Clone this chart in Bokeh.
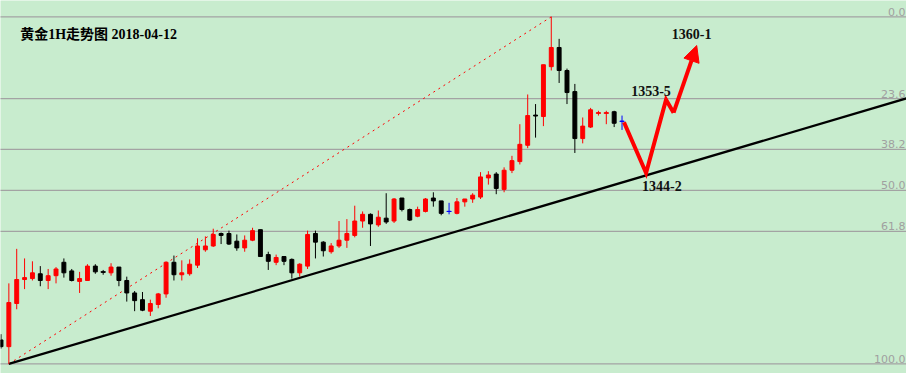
from bokeh.plotting import figure
from bokeh.models import Range1d, Arrow, NormalHead, ColumnDataSource
from bokeh.core.properties import value
from bokeh.embed import file_html
from bokeh.resources import INLINE

# ---- data (gold 1H candles) ----
opens = [1328.0, 1327.3, 1331.8, 1334.3, 1334.4, 1334.9, 1334.2, 1334.7, 1336.1, 1335.2,
         1334.1, 1334.2, 1335.7, 1335.1, 1335.0, 1335.6, 1334.2, 1332.9, 1332.2, 1331.0,
         1331.7, 1332.8, 1336.1, 1334.8, 1334.9, 1335.8, 1337.4, 1337.8, 1339.1, 1339.1,
         1338.3, 1337.6, 1338.4, 1339.5, 1336.9, 1336.1, 1336.7, 1336.4, 1335.0, 1335.7,
         1339.1, 1338.2, 1337.2, 1337.8, 1338.4, 1338.9, 1340.4, 1341.1, 1340.0, 1340.7,
         1340.4, 1342.8, 1341.6, 1340.9, 1341.4, 1342.8, 1342.5, 1341.4, 1341.2, 1342.4,
         1342.7, 1342.9, 1344.9, 1345.3, 1343.7, 1345.7, 1346.6, 1348.3, 1351.45, 1351.3,
         1356.5, 1358.5, 1356.1, 1353.9, 1349.0, 1350.2, 1351.65, 1351.65, 1351.8, 1350.8]
highs = [1328.6, 1333.9, 1337.5, 1336.5, 1336.2, 1335.7, 1335.4, 1335.6, 1336.5, 1335.4,
         1335.1, 1335.9, 1335.9, 1335.3, 1336.0, 1335.6, 1334.6, 1333.1, 1333.0, 1332.2,
         1332.9, 1336.2, 1336.8, 1336.3, 1336.4, 1338.6, 1338.8, 1339.6, 1339.2, 1339.4,
         1339.0, 1338.9, 1339.7, 1339.5, 1337.2, 1336.9, 1336.7, 1336.5, 1336.0, 1339.4,
         1339.4, 1338.3, 1338.1, 1340.4, 1340.6, 1342.0, 1341.4, 1341.2, 1341.5, 1343.3,
         1342.8, 1342.8, 1341.7, 1341.9, 1342.8, 1343.4, 1342.5, 1342.3, 1342.8, 1342.7,
         1343.3, 1345.5, 1345.6, 1345.5, 1346.0, 1347.2, 1350.5, 1353.6, 1352.6, 1356.7,
         1361.7, 1359.4, 1356.3, 1354.7, 1351.2, 1352.2, 1351.9, 1351.9, 1351.9, 1351.4]
lows = [1327.1, 1325.5, 1331.2, 1333.3, 1334.2, 1333.6, 1333.3, 1333.9, 1334.5, 1334.1,
        1332.9, 1334.2, 1334.9, 1334.8, 1334.7, 1333.6, 1332.0, 1331.0, 1331.0, 1330.5,
        1331.3, 1332.4, 1334.2, 1334.2, 1334.7, 1335.5, 1337.2, 1337.7, 1338.0, 1337.9,
        1337.3, 1337.2, 1338.3, 1336.7, 1335.3, 1335.8, 1335.8, 1334.4, 1334.6, 1335.4,
        1336.5, 1336.7, 1337.0, 1337.6, 1337.6, 1338.7, 1339.7, 1337.8, 1339.8, 1340.1,
        1340.2, 1341.4, 1340.4, 1340.8, 1341.3, 1341.9, 1341.0, 1341.1, 1341.1, 1341.9,
        1342.3, 1342.7, 1344.2, 1343.2, 1343.4, 1345.4, 1346.3, 1348.0, 1349.1, 1350.3,
        1356.1, 1354.8, 1352.6, 1347.5, 1348.5, 1350.1, 1351.4, 1350.5, 1350.2, 1349.9]
closes = [1327.3, 1331.9, 1334.3, 1334.5, 1335.0, 1334.2, 1334.7, 1335.4, 1335.0, 1334.2,
          1334.4, 1335.7, 1335.1, 1335.05, 1335.6, 1334.2, 1332.9, 1332.1, 1331.1, 1331.8,
          1332.8, 1336.1, 1334.8, 1335.0, 1335.9, 1337.8, 1337.8, 1339.0, 1338.9, 1338.0,
          1337.6, 1338.4, 1339.4, 1336.7, 1336.2, 1336.6, 1336.2, 1335.0, 1335.9, 1339.0,
          1338.2, 1337.3, 1337.8, 1338.4, 1339.1, 1340.4, 1341.1, 1340.1, 1340.8, 1340.3,
          1342.7, 1341.6, 1340.5, 1341.6, 1342.7, 1342.5, 1341.2, 1341.4, 1342.4, 1342.7,
          1343.1, 1345.0, 1345.2, 1343.8, 1345.7, 1346.7, 1348.4, 1351.4, 1351.35, 1356.7,
          1358.5, 1356.1, 1353.8, 1349.0, 1350.3, 1352.0, 1351.7, 1351.7, 1350.6, 1350.8]

fib_ratios = [0.0, 0.236, 0.382, 0.5, 0.618, 1.0]
fib_labels = ["0.0", "23.6", "38.2", "50.0", "61.8", "100.0"]
swing_low_idx, swing_high_idx = 1, 70

trend_x = [1, 115.2]
trend_y = [1325.5, 1353.2]

proj_x = [79.25, 82.06, 84.6, 85.56]
proj_y = [1350.7, 1345.4, 1353.05, 1351.7]
arrow_tip = (88.5, 1358.7)

target_labels = ["1360-1", "1353-5", "1344-2"]
target_x = [87.85, 82.69, 84.06]
target_y = [1359.9, 1353.95, 1344.1]

title = "黄金1H走势图 2018-04-12"

# ---- figure ----
BG = "#c8ecce"
p = figure(width=906, height=373, output_backend="svg", toolbar_location=None,
           x_range=Range1d(-0.0625, 115.1875), y_range=Range1d(1324.5, 1363.4),
           x_axis_location=None, y_axis_location=None, min_border=0)
p.grid.visible = False
p.outline_line_color = None
p.background_fill_color = BG
p.border_fill_color = BG

hi = highs[swing_high_idx]
lo = lows[swing_low_idx]
fib_prices = [hi - r * (hi - lo) for r in fib_ratios]
for fp in fib_prices:
    p.line([-5, 130], [fp, fp], line_color="#a3a3a3", line_width=1.2)
p.text(x=[115.05] * len(fib_prices), y=fib_prices, text=fib_labels,
       text_align="right", text_baseline="bottom", y_offset=-1,
       text_color="#a0a0a0", text_font=value("DejaVu Sans"), text_font_size="11px")

# dotted swing line
p.line([swing_low_idx, swing_high_idx], [lo, hi], line_color="red", line_width=1, line_dash="2 4")
# trend line
p.line(trend_x, trend_y, line_color="black", line_width=2.2)

idx = list(range(len(opens)))
colors = []
for o, c in zip(opens, closes):
    if c > o:
        colors.append("#ff0000")
    elif c < o:
        colors.append("#000000")
    else:
        colors.append("#0000ff")
src = ColumnDataSource(dict(x=idx, o=opens, h=highs, l=lows, c=closes,
                            top=[max(a, b) for a, b in zip(opens, closes)],
                            bot=[min(a, b) for a, b in zip(opens, closes)],
                            color=colors))
p.segment(x0="x", y0="l", x1="x", y1="h", line_color="color", line_width=1, source=src)
p.vbar(x="x", width=0.5, top="top", bottom="bot", fill_color="color", line_color="color",
       line_width=1, source=src)
dx = [i for i in idx if abs(opens[i] - closes[i]) < 0.1]
p.segment(x0=[i - 0.32 for i in dx], y0=[opens[i] for i in dx],
          x1=[i + 0.32 for i in dx], y1=[opens[i] for i in dx],
          line_color=[colors[i] for i in dx], line_width=1)

# projection path
p.line(proj_x, proj_y, line_color="#ff0000", line_width=4, line_join="miter")
p.add_layout(Arrow(end=NormalHead(size=16, fill_color="#ff0000", line_color="#ff0000"),
                   x_start=proj_x[-1], y_start=proj_y[-1], x_end=arrow_tip[0], y_end=arrow_tip[1],
                   line_color="#ff0000", line_width=4))

p.text(x=target_x, y=target_y, text=target_labels, text_align="center", text_baseline="middle",
       text_color="#111111", text_font=value("Liberation Serif"), text_font_style="bold",
       text_font_size="14px")

p.text(x=[2.44], y=[1359.85], text=[title], text_align="left", text_baseline="middle",
       text_color="#000000", text_font=value("Liberation Serif, Noto Sans CJK SC"),
       text_font_style="bold", text_font_size="14px")

open("out.html", "w").write(file_html(p, INLINE))
